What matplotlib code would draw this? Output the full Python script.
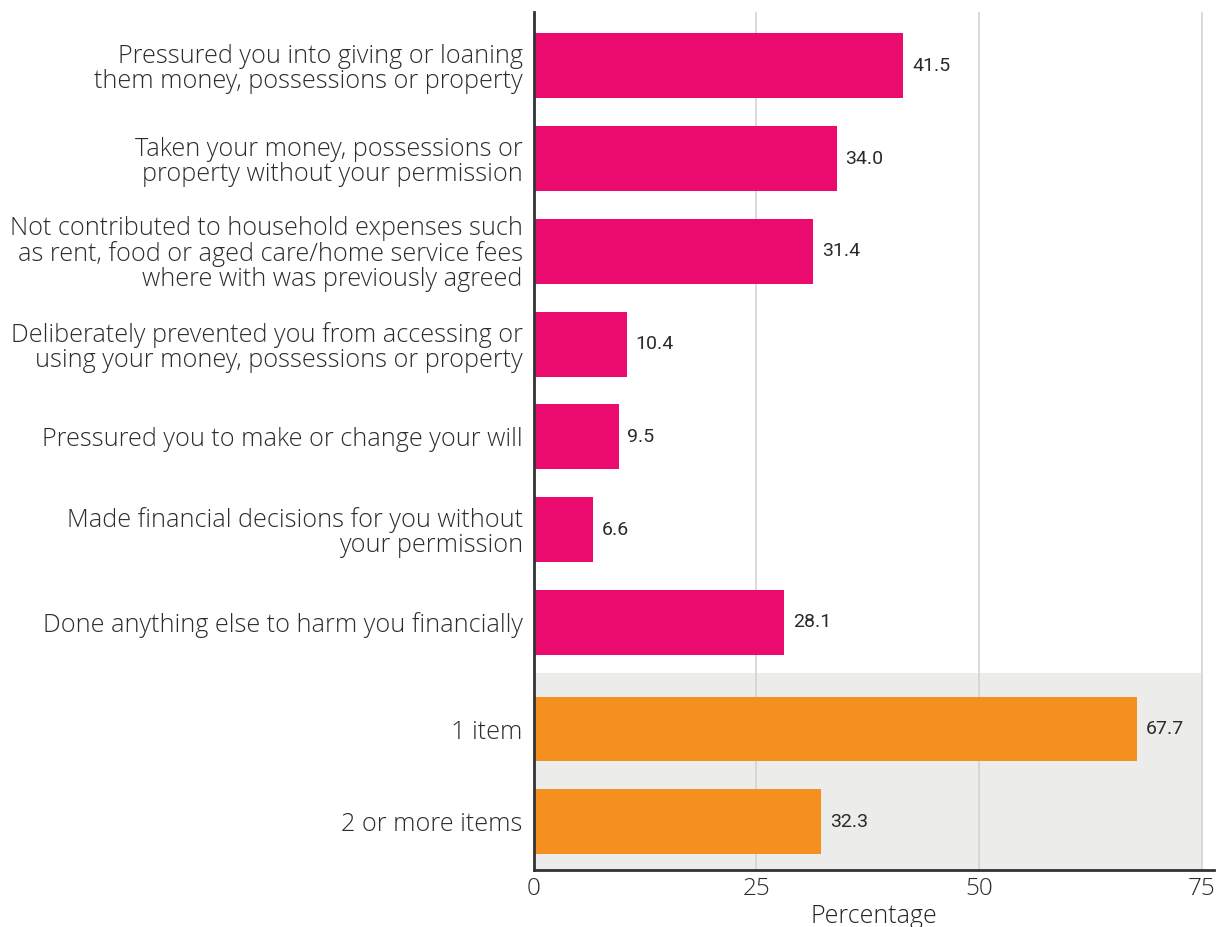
import matplotlib
matplotlib.use("Agg")
import matplotlib.pyplot as plt

categories = [
    "Pressured you into giving or loaning\nthem money, possessions or property",
    "Taken your money, possessions or\nproperty without your permission",
    "Not contributed to household expenses such\nas rent, food or aged care/home service fees\nwhere with was previously agreed",
    "Deliberately prevented you from accessing or\nusing your money, possessions or property",
    "Pressured you to make or change your will",
    "Made financial decisions for you without\nyour permission",
    "Done anything else to harm you financially",
    "1 item",
    "2 or more items",
]
values = [41.5, 34.0, 31.4, 10.4, 9.5, 6.6, 28.1, 67.7, 32.3]
groups = ["type"] * 7 + ["count"] * 2
xticks = [0, 25, 50, 75]

colors = {"type": "#EB0A6E", "count": "#F58F1F"}

plt.rcParams["font.family"] = ["Open Sans", "DejaVu Sans"]

fig = plt.figure(figsize=(12.18, 9.27), dpi=100)
ax = fig.add_axes([0.4384, 0.0615, 0.9967 - 0.4384, 0.987 - 0.0615])

# positions: a small extra gap separates the summary rows
ypos = []
for i, g in enumerate(groups):
    ypos.append(i + (0.15 if g == "count" else 0.0))

ax.set_xlim(0, 76.4)
ax.set_ylim(8.67, -0.58)

# shaded band behind the summary rows
first_count = groups.index("count")
ax.fill_between([0, 75], ypos[first_count] - 0.6, 8.67, color="#ECECEA", zorder=0, lw=0)

for x in xticks[1:]:
    ax.axvline(x, color="#D3D3D3", lw=1.2, zorder=1)

ax.barh(ypos, values, height=0.7,
        color=[colors[g] for g in groups], zorder=2)

for y, v in zip(ypos, values):
    ax.text(v + 1.0, y, f"{v:.1f}", va="center", ha="left",
            fontsize=14, color="#2a2a2a", family=["Roboto", "DejaVu Sans"],
            fontstretch="condensed")

ax.set_yticks(ypos)
ax.set_yticklabels(categories, fontsize=18.2, color="#2c2c2c",
                   linespacing=1.0, fontweight="light")
ax.set_xticks(xticks)
ax.set_xticklabels([str(t) for t in xticks], fontsize=17.5, color="#2c2c2c",
                   fontweight="light")
ax.tick_params(axis="y", length=0, pad=8)
ax.tick_params(axis="x", length=0, pad=5)
ax.set_xlabel("Percentage", fontsize=18, color="#222222", labelpad=2,
              fontweight="light")

for s in ["top", "right"]:
    ax.spines[s].set_visible(False)
for s in ["left", "bottom"]:
    ax.spines[s].set_color("#333333")
    ax.spines[s].set_linewidth(2)

fig.savefig("out.png", dpi=100)
